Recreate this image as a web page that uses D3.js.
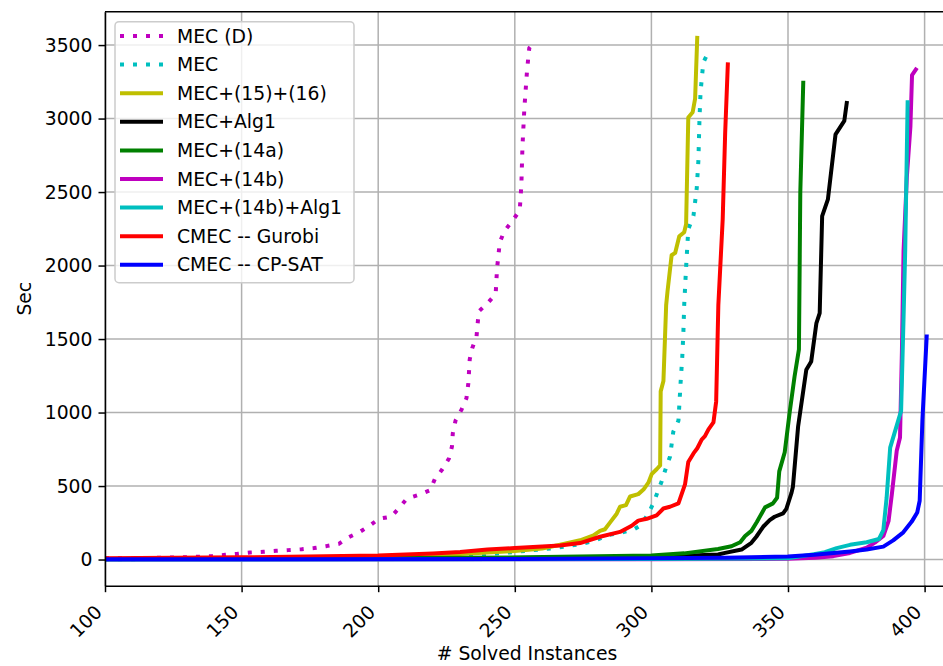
<!DOCTYPE html>
<html>
<head>
<meta charset="utf-8">
<script src="https://cdn.jsdelivr.net/npm/d3@7"></script>
<style>
  body { margin: 0; background: #fff; }
  svg text { font-family: "DejaVu Sans", sans-serif; fill: #000; }
</style>
</head>
<body>
<div id="chart"></div>
<script>
const width = 943;
const height = 666;

// axis ticks
const xTicks = [100, 150, 200, 250, 300, 350, 400];
const yTicks = [0, 500, 1000, 1500, 2000, 2500, 3000, 3500];

// [# solved instances, sec]
const mecD = [[100,8],[115,10],[130,16],[139,23],[144,32],[148.5,39],[153,48],[158,53],[162.6,59],[167,64],[172,70],[176.5,78],[181,91],[185.6,107],[189,150],[193,185],[197,232],[200.3,278],[204.7,291],[208,358],[210.4,413],[215,441],[219,471],[220.7,546],[223.4,612],[225.9,687],[227,769],[227.3,858],[228.3,945],[230.5,1020],[232.3,1097],[233,1200],[233.5,1362],[234.4,1437],[236,1519],[236.8,1688],[239.9,1742],[243,1805],[243.5,1980],[244.5,2157],[246.1,2232],[249,2302],[251.8,2374],[252.4,2546],[252.8,2808],[253.5,3071],[254.5,3331],[255.3,3480],[256.3,3502]];
const mec = [[100,2],[150,5],[200,12],[230,27],[242,39],[250,52],[257,64],[265.5,80],[272.8,102],[279,125],[283.8,165],[288.7,181],[293.5,204],[295.9,230],[298.9,312],[300.8,387],[303.8,534],[305.4,628],[306.8,699],[308,868],[309.9,945],[310.7,1207],[311.3,1378],[311.7,1542],[312,1730],[312.7,1988],[313.5,2246],[315.4,2339],[316.6,2527],[317.2,2714],[317.6,2996],[318,3183],[319,3382],[320.9,3453]];
const mec1516 = [[100,3],[150,8],[200,20],[230,38],[250,58],[260,75],[266.6,101],[273.9,131],[278.8,164],[281.2,195],[283,206],[284.9,253],[287.3,312],[288.5,359],[290.7,370],[292.2,429],[295.2,445],[297.1,476],[298.9,523],[300.1,581],[302,616],[303.2,640],[303.4,1144],[304.4,1214],[305.4,1730],[305.9,1824],[307.4,2070],[308.7,2086],[310.2,2199],[312,2227],[312.7,2281],[313.5,3007],[315.1,3043],[316,3136],[316.8,3563]];
const mecAlg1 = [[100,2],[200,5],[250,8],[300,18],[324.4,34],[327,45],[333,68],[336.6,114],[338.4,155],[340.9,223],[343.3,268],[345.1,291],[348.2,314],[349.4,345],[351.3,455],[351.8,495],[353.7,905],[356.7,1291],[358.5,1348],[360.4,1609],[361.6,1677],[362.5,2336],[364.6,2450],[367.4,2893],[370.6,2984],[371.6,3120]];
const mec14a = [[100,3],[200,8],[253.8,15],[300,28],[312,42],[324.4,72],[329.3,90],[332.5,118],[334.3,160],[336.6,195],[338.6,255],[341.6,355],[344.5,382],[346,420],[346.8,600],[348.8,730],[350.6,1000],[352.4,1245],[354,1430],[354.5,2495],[355.6,3257]];
const mec14b = [[100,0],[300,2],[350,5],[360,12],[366.6,23],[372.7,45],[378.8,80],[381.8,115],[384.9,160],[386.8,261],[388,443],[389.8,740],[391,830],[391.7,1420],[392.3,2102],[393.5,2602],[394.8,2943],[395.4,3295],[397.2,3345]];
const mec14bAlg1 = [[100,0],[300,3],[350,8],[360.5,40],[363.5,50],[367.8,78],[372.7,100],[378.8,118],[383.3,140],[384.9,200],[386.1,420],[387.4,761],[391.4,1011],[392.3,1648],[392.9,2102],[393.5,2784],[393.8,3125]];
const cmecGurobi = [[100,8],[150,15],[200,27],[210,34],[220,41],[230,52],[240,68],[250,78],[260,88],[266.6,96],[273.9,112],[281.2,155],[288.5,188],[292.8,230],[295.2,265],[298.3,277],[301.9,300],[304.4,347],[306.8,359],[309.9,382],[312.3,511],[313.5,663],[315.4,722],[316.8,757],[318.4,816],[319.6,839],[320.9,886],[322.7,933],[323.7,1074],[324.5,1730],[326.1,2316],[327,2902],[328,3382]];
const cmecCpsat = [[100,2],[250,4],[300,8],[327,12],[350,20],[359.6,32],[372.7,55],[378.8,68],[384.9,88],[388.5,130],[392.2,185],[395.3,258],[397.3,320],[398.2,400],[399.2,950],[400.8,1531]];

const seriesNames = ["MEC (D)", "MEC", "MEC+(15)+(16)", "MEC+Alg1", "MEC+(14a)", "MEC+(14b)", "MEC+(14b)+Alg1", "CMEC -- Gurobi", "CMEC -- CP-SAT"];
const seriesData = [mecD, mec, mec1516, mecAlg1, mec14a, mec14b, mec14bAlg1, cmecGurobi, cmecCpsat];
const seriesColors = ["#bf00bf", "#00bfbf", "#bfbf00", "#000000", "#008000", "#bf00bf", "#00bfbf", "#ff0000", "#0000ff"];
const seriesDotted = [true, true, false, false, false, false, false, false, false];

const margin = { left: 105, right: -1, top: 11.7, bottom: 80.3 };
const fontSize = 18.8;

const svg = d3.select("#chart").append("svg")
    .attr("width", width)
    .attr("height", height);

const x = d3.scaleLinear()
    .domain([100, 407.1])
    .range([margin.left, width - margin.right]);

const y = d3.scaleLinear()
    .domain([-178, 3727])
    .range([height - margin.bottom, margin.top]);

const plot = svg.append("g");

// grid
plot.append("g").selectAll("line")
    .data(xTicks)
    .enter().append("line")
    .attr("x1", d => x(d)).attr("x2", d => x(d))
    .attr("y1", margin.top).attr("y2", height - margin.bottom)
    .style("stroke", "#b0b0b0")
    .style("stroke-width", 1.5);

plot.append("g").selectAll("line")
    .data(yTicks)
    .enter().append("line")
    .attr("x1", margin.left).attr("x2", width - margin.right)
    .attr("y1", d => y(d)).attr("y2", d => y(d))
    .style("stroke", "#b0b0b0")
    .style("stroke-width", 1.5);

svg.append("defs").append("clipPath")
    .attr("id", "clip")
    .append("rect")
    .attr("x", margin.left)
    .attr("y", margin.top)
    .attr("width", width - margin.left - margin.right)
    .attr("height", height - margin.top - margin.bottom);

const line = d3.line()
    .x(d => x(d[0]))
    .y(d => y(d[1]));

const lines = plot.append("g").attr("clip-path", "url(#clip)");
seriesData.forEach(function(data, i) {
    lines.append("path")
        .datum(data)
        .attr("d", line)
        .style("fill", "none")
        .style("stroke", seriesColors[i])
        .style("stroke-width", 4)
        .style("stroke-linejoin", "round")
        .style("stroke-dasharray", seriesDotted[i] ? "4,9" : null);
});

// axes
const xAxis = svg.append("g")
    .attr("transform", "translate(0," + (height - margin.bottom) + ")")
    .call(d3.axisBottom(x).tickValues(xTicks).tickFormat(d3.format("d")).tickSize(6.5).tickSizeOuter(0));

xAxis.selectAll("text")
    .style("font-size", fontSize + "px")
    .style("text-anchor", "end")
    .attr("dy", "0.35em")
    .attr("transform", "translate(-7,23) rotate(-45)")
    .attr("x", 0).attr("y", 0);

const yAxis = svg.append("g")
    .attr("transform", "translate(" + margin.left + ",0)")
    .call(d3.axisLeft(y).tickValues(yTicks).tickFormat(d3.format("d")).tickSize(6.5).tickPadding(6).tickSizeOuter(0));

yAxis.selectAll("text").style("font-size", fontSize + "px");

svg.selectAll(".domain").style("stroke", "#000").style("stroke-width", 1.5);
svg.selectAll(".tick line").style("stroke", "#000").style("stroke-width", 1.5);

// frame
svg.append("line")
    .attr("x1", margin.left).attr("x2", width)
    .attr("y1", margin.top).attr("y2", margin.top)
    .style("stroke", "#000").style("stroke-width", 1.5);

svg.append("text")
    .attr("x", 527)
    .attr("y", 660)
    .style("text-anchor", "middle")
    .style("font-size", fontSize + "px")
    .text("# Solved Instances");

svg.append("text")
    .attr("transform", "translate(31," + ((margin.top + height - margin.bottom) / 2) + ") rotate(-90)")
    .style("text-anchor", "middle")
    .style("font-size", fontSize + "px")
    .text("Sec");

// legend
const legend = svg.append("g");
legend.append("rect")
    .attr("x", 115).attr("y", 21.7)
    .attr("width", 239).attr("height", 261)
    .attr("rx", 4)
    .style("fill", "#fff").style("fill-opacity", 0.8)
    .style("stroke", "#cccccc").style("stroke-width", 1.5);

const rowStep = 28.6;
seriesNames.forEach(function(name, i) {
    const cy = 36 + i * rowStep;
    legend.append("line")
        .attr("x1", 120).attr("x2", 163)
        .attr("y1", cy).attr("y2", cy)
        .style("stroke", seriesColors[i])
        .style("stroke-width", 4)
        .style("stroke-dasharray", seriesDotted[i] ? "4,9" : null);
    legend.append("text")
        .attr("x", 177).attr("y", cy)
        .attr("dy", "0.35em")
        .style("font-size", fontSize + "px")
        .text(name);
});
</script>
</body>
</html>
